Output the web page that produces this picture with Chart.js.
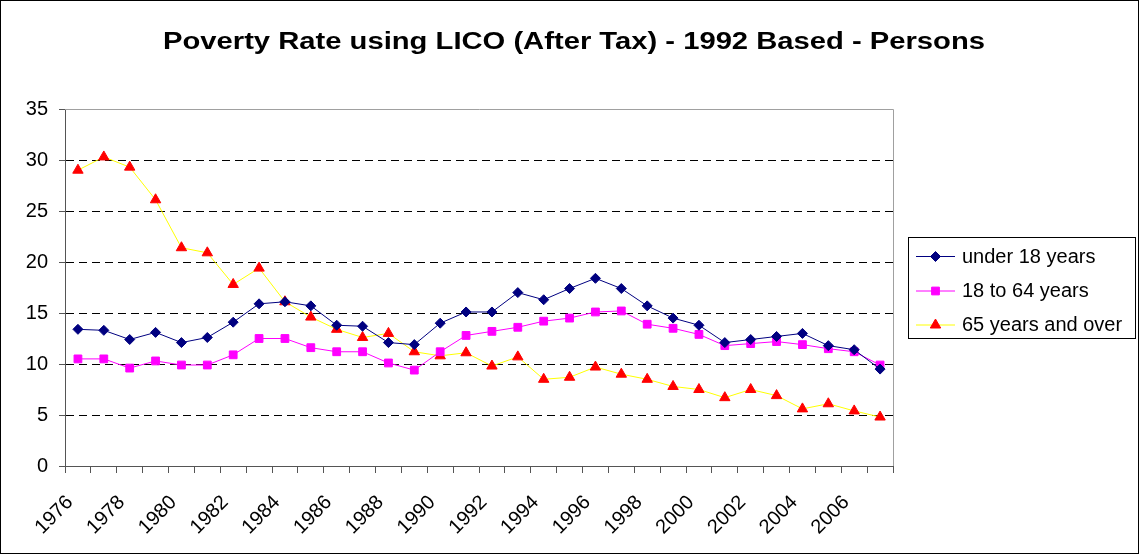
<!DOCTYPE html>
<html>
<head>
<meta charset="utf-8">
<script src="https://cdn.jsdelivr.net/npm/chart.js@4"></script>
<style>
  html, body { margin: 0; padding: 0; background: #fff; }
  canvas { display: block; }
</style>
</head>
<body>
<canvas id="myChart" width="1139" height="554"></canvas>
<script>
const chartTitle = 'Poverty Rate using LICO (After Tax) - 1992 Based - Persons';

const years = ['1976', '1977', '1978', '1979', '1980', '1981', '1982', '1983', '1984', '1985',
  '1986', '1987', '1988', '1989', '1990', '1991', '1992', '1993', '1994', '1995',
  '1996', '1997', '1998', '1999', '2000', '2001', '2002', '2003', '2004', '2005',
  '2006', '2007'];

const seriesNames = ['under 18 years', '18 to 64 years', '65 years and over'];

const under18 = [13.4, 13.3, 12.4, 13.1, 12.1, 12.6, 14.1, 15.9, 16.1, 15.7,
  13.8, 13.7, 12.1, 11.9, 14.0, 15.1, 15.1, 17.0, 16.3, 17.4,
  18.4, 17.4, 15.7, 14.5, 13.8, 12.1, 12.4, 12.7, 13.0, 11.8,
  11.4, 9.5];

const age18to64 = [10.5, 10.5, 9.6, 10.3, 9.9, 9.9, 10.9, 12.5, 12.5, 11.6,
  11.2, 11.2, 10.1, 9.4, 11.2, 12.8, 13.2, 13.6, 14.2, 14.5,
  15.1, 15.2, 13.9, 13.5, 12.9, 11.8, 12.0, 12.2, 11.9, 11.5,
  11.2, 9.9];

const age65plus = [29.0, 30.3, 29.3, 26.1, 21.4, 20.9, 17.8, 19.4, 16.1, 14.6,
  13.4, 12.6, 13.0, 11.2, 10.8, 11.1, 9.8, 10.7, 8.5, 8.7,
  9.7, 9.0, 8.5, 7.8, 7.5, 6.7, 7.5, 6.9, 5.6, 6.1,
  5.4, 4.8];

const yTicks = [0, 5, 10, 15, 20, 25, 30, 35];

const FONT = 'Arial, "Liberation Sans", sans-serif';

// setup
const data = {
  labels: years,
  datasets: [
    {
      label: seriesNames[0],
      data: under18,
      borderColor: '#000080',
      backgroundColor: '#000080',
      borderWidth: 1,
      pointStyle: 'rectRot',
      pointRadius: 5,
      pointBorderWidth: 1
    },
    {
      label: seriesNames[1],
      data: age18to64,
      borderColor: '#ff00ff',
      backgroundColor: '#ff00ff',
      borderWidth: 1,
      pointStyle: 'rect',
      pointRadius: 5.5,
      pointBorderWidth: 1
    },
    {
      label: seriesNames[2],
      data: age65plus,
      borderColor: '#ffff00',
      backgroundColor: '#ff0000',
      pointBorderColor: '#ff0000',
      borderWidth: 1,
      pointStyle: 'triangle',
      pointRadius: 6,
      pointBorderWidth: 1
    }
  ]
};

// title, frame and boxed legend
const excelBits = {
  id: 'excelBits',
  beforeDatasetsDraw(chart) {
    const { ctx, chartArea: { top, right, bottom, left } } = chart;
    ctx.save();
    ctx.strokeStyle = '#a0a0a0';
    ctx.lineWidth = 1;
    ctx.beginPath();
    ctx.moveTo(left, top + 0.5);
    ctx.lineTo(right + 0.5, top + 0.5);
    ctx.lineTo(right + 0.5, bottom);
    ctx.stroke();
    ctx.restore();
  },
  afterDraw(chart) {
    const { ctx } = chart;
    ctx.save();

    // outer border
    ctx.strokeStyle = '#000';
    ctx.lineWidth = 1;
    ctx.strokeRect(0.5, 0.5, chart.width - 1, chart.height - 1);

    // title, stretched a bit wide like the original
    ctx.font = 'bold 23px ' + FONT;
    ctx.fillStyle = '#000';
    ctx.textAlign = 'center';
    ctx.textBaseline = 'alphabetic';
    const w = ctx.measureText(chartTitle).width;
    ctx.translate(574, 49);
    ctx.scale(822 / w, 1);
    ctx.fillText(chartTitle, 0, 0);
    ctx.setTransform(1, 0, 0, 1, 0, 0);

    // legend box
    ctx.strokeStyle = '#000';
    ctx.strokeRect(908.5, 237.5, 227, 101);
    const rows = [256, 290.5, 324.5];
    ctx.font = '20px ' + FONT;
    ctx.textAlign = 'left';
    ctx.textBaseline = 'middle';
    chart.data.datasets.forEach((ds, i) => {
      const y = rows[i];
      ctx.strokeStyle = ds.borderColor;
      ctx.lineWidth = 1;
      ctx.beginPath();
      ctx.moveTo(916, y + 0.5);
      ctx.lineTo(955, y + 0.5);
      ctx.stroke();
      ctx.fillStyle = ds.backgroundColor;
      ctx.strokeStyle = ds.pointBorderColor || ds.borderColor;
      Chart.helpers.drawPoint(ctx, {
        pointStyle: ds.pointStyle,
        radius: ds.pointRadius,
        rotation: 0,
        borderWidth: 1
      }, 935.5, y + 0.5);
      ctx.fillStyle = '#000';
      ctx.fillText(ds.label, 962, y + 1);
    });
    ctx.restore();
  }
};

// config
const config = {
  type: 'line',
  data,
  options: {
    responsive: false,
    animation: false,
    devicePixelRatio: 1,
    layout: {
      padding: { top: 109, right: 246, left: 0, bottom: 0 }
    },
    elements: {
      line: { tension: 0 }
    },
    scales: {
      x: {
        offset: true,
        afterFit(scale) { scale.height = 88; },
        grid: {
          offset: true,
          drawOnChartArea: false,
          drawTicks: true,
          tickLength: 7,
          color: '#555',
          tickColor: '#555'
        },
        border: { color: '#555', width: 1 },
        ticks: {
          autoSkip: false,
          maxRotation: 45,
          minRotation: 45,
          padding: 10,
          color: '#000',
          font: { family: FONT, size: 20 },
          callback(value, index) {
            // trailing spaces nudge the rotated label down-left like Excel
            return index % 2 === 0 ? years[index] + '  ' : '';
          }
        }
      },
      y: {
        min: 0,
        max: 35,
        afterFit(scale) { scale.width = 65; },
        afterBuildTicks(scale) {
          scale.ticks = yTicks.map(v => ({ value: v }));
        },
        grid: {
          color(c) {
            return (c.tick && (c.tick.value === 0 || c.tick.value === 35)) ? 'rgba(0,0,0,0)' : '#000';
          },
          tickColor: '#555',
          tickLength: 6
        },
        border: { color: '#555', width: 1, dash: [8, 5] },
        ticks: {
          padding: 11,
          color: '#000',
          font: { family: FONT, size: 20 }
        }
      }
    },
    plugins: {
      legend: { display: false },
      title: { display: false },
      tooltip: { enabled: false }
    }
  },
  plugins: [excelBits]
};

// render init block
const myChart = new Chart(
  document.getElementById('myChart'),
  config
);
</script>
</body>
</html>
